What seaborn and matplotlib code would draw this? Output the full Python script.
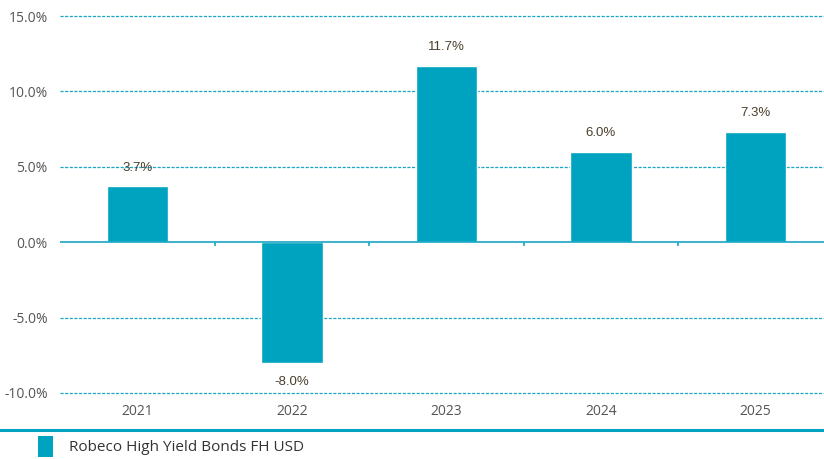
import matplotlib
matplotlib.use("Agg")
import matplotlib.pyplot as plt
import seaborn as sns
import pandas as pd
from matplotlib.lines import Line2D
from matplotlib.patches import Patch

# values
years = ["2021", "2022", "2023", "2024", "2025"]
returns = [3.7, -8.0, 11.7, 6.0, 7.3]
series_name = "Robeco High Yield Bonds FH USD"
yticks = [-10, -5, 0, 5, 10, 15]

bar_color = "#00A3BF"
line_color = "#1AA6C4"

sns.set_style("white")
plt.rcParams["font.family"] = ["Open Sans", "DejaVu Sans"]

df = pd.DataFrame({"year": years, "ret": returns})

fig = plt.figure(figsize=(8.24, 4.59), dpi=100)
W, H = 824, 459
ax = fig.add_axes([60.25 / W, (H - 393) / H, 772.5 / W, (393 - 16) / H])

sns.barplot(data=df, x="year", y="ret", color=bar_color, width=0.395,
            saturation=1, ax=ax, zorder=3)

ax.set_ylim(-10, 15)
ax.set_xlim(-0.5, len(years) - 0.5)
ax.set_yticks(yticks)
ax.set_yticklabels([f"{v:.1f}%" for v in yticks])

# dashed gridlines, solid zero line
for v in yticks:
    if v == 0:
        ax.axhline(v, color=line_color, lw=1.2, zorder=4)
    else:
        ax.axhline(v, color=line_color, lw=0.9, ls=(0, (2.5, 1.2)), zorder=1, clip_on=False)
ax.vlines([i + 0.5 for i in range(len(years) - 1)], -0.28, 0, color=line_color, lw=1.2, zorder=4)

for s in ax.spines.values():
    s.set_visible(False)
ax.tick_params(axis="both", length=0, labelsize=10, colors="#555555")
ax.tick_params(axis="y", pad=9)
ax.tick_params(axis="x", pad=8)
ax.set_xlabel("")
ax.set_ylabel("")

# value labels
for i, v in enumerate(returns):
    off = 1.25 if v >= 0 else -1.25
    ax.text(i, v + off, f"{v:.1f}%", ha="center", va="center", fontsize=9.5,
            color="#4A3E2A", family=["Liberation Sans", "DejaVu Sans"])

# bottom separator line and legend
fig.add_artist(Line2D([0, 1], [(H - 430) / H, (H - 430) / H], color=bar_color, lw=2.2,
                      transform=fig.transFigure))
handle = Patch(facecolor=bar_color, edgecolor="none", label=series_name)
fig.legend(handles=[handle], loc="upper left", bbox_to_anchor=(38 / W, (H - 436) / H),
           frameon=False, fontsize=11, handlelength=0.95, handleheight=1.7,
           handletextpad=1.07, borderpad=0, borderaxespad=0, labelcolor="#333333")

fig.savefig("out.png", dpi=100)
